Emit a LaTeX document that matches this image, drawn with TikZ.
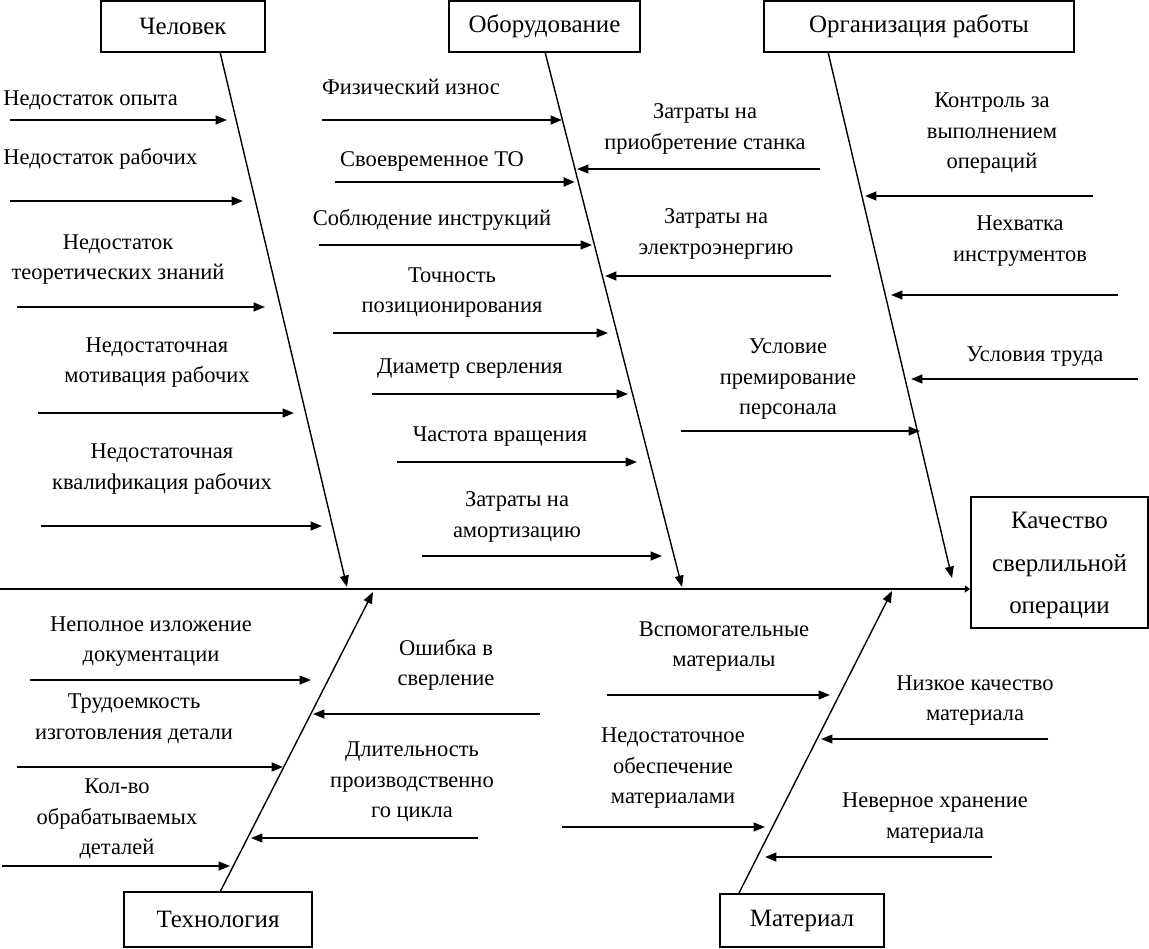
\documentclass[tikz,border=0pt]{standalone}
\usepackage{fontspec}
\setmainfont{Liberation Serif}
\usetikzlibrary{arrows.meta}
\newcommand\fsz{\fontsize{12.8pt}{17.3pt}\selectfont}
\newcommand\fszt{\fontsize{14.2pt}{17.3pt}\selectfont}
\newcommand\fszb{\fontsize{14.2pt}{24.4pt}\selectfont}
\begin{document}
\begin{tikzpicture}[x=0.02cm,y=-0.02cm,
  tip/.style={-{Triangle[length=6.5pt,width=5pt]}},
  rib/.style={tip,line width=1.1pt},
  ribb/.style={tip,line width=1.6pt},
  bone/.style={tip,line width=0.8pt},
  spine/.style={line width=1.2pt,-{Triangle[length=3pt,width=4pt]}},
  box/.style={draw,line width=1pt,inner sep=0pt,font=\fszt},
  lbl/.style={font=\fsz,align=center,inner sep=0pt}]
\useasboundingbox (0,0) rectangle (1149,948);
% boxes
\node[box,minimum width=3.28cm,minimum height=1.02cm] (chel) at (183,26.5) {Человек};
\node[box,minimum width=3.82cm,minimum height=1.02cm] (obor) at (544.5,26.5) {Оборудование};
\node[box,minimum width=6.2cm,minimum height=1.02cm] (org) at (919,26.5) {Организация работы};
\node[box,minimum width=3.54cm,minimum height=2.62cm,font=\fszb,align=center] (kach) at (1059.5,562.5) {\strut Качество\\\strut сверлильной\\\strut операции};
\node[box,minimum width=3.76cm,minimum height=1.1cm] (tech) at (218,919.5) {Технология};
\node[box,minimum width=3.28cm,minimum height=1.06cm] (mat) at (802,920.5) {Материал};
% spine
\coordinate (s0) at (0,589);
\draw[spine] (s0) -- (s0 -| kach.west);
% bones
\coordinate (chelR) at (220,52);   \coordinate (chelT) at (347,587);
\coordinate (oborR) at (545,52);   \coordinate (oborT) at (682,587);
\coordinate (orgR) at (828,52);    \coordinate (orgT) at (952,578);
\coordinate (techR) at (220,892);  \coordinate (techT) at (373,592);
\coordinate (matR) at (739,893);   \coordinate (matT) at (892,591);
\draw[bone] (chelR) -- (chelT);
\draw[bone] (oborR) -- (oborT);
\draw[bone] (orgR) -- (orgT);
\draw[bone] (techR) -- (techT);
\draw[bone] (matR) -- (matT);
% ribs: Человек
\coordinate (a1s) at (10,120);  \coordinate (a1e) at (227,120);
\coordinate (a2s) at (10,201);  \coordinate (a2e) at (243,201);
\coordinate (a3s) at (17,307);  \coordinate (a3e) at (265,307);
\coordinate (a4s) at (38,413);  \coordinate (a4e) at (294,413);
\coordinate (a5s) at (41,526);  \coordinate (a5e) at (322,526);
\foreach \i in {1,...,5} {\draw[rib] (a\i s) -- (a\i e);}
% ribs: Оборудование
\coordinate (b1s) at (322,120); \coordinate (b1e) at (562,120);
\coordinate (b2s) at (335,182); \coordinate (b2e) at (575,182);
\coordinate (b3s) at (319,245); \coordinate (b3e) at (592,245);
\coordinate (b4s) at (333,333); \coordinate (b4e) at (608,333);
\coordinate (b5s) at (372,394); \coordinate (b5e) at (628,394);
\coordinate (b6s) at (397,462); \coordinate (b6e) at (637,462);
\coordinate (b7s) at (422,556); \coordinate (b7e) at (662,556);
\coordinate (b8s) at (820,169); \coordinate (b8e) at (577,169);
\coordinate (b9s) at (831,276); \coordinate (b9e) at (605,276);
\foreach \i in {1,3,4,5,6,7,8,9} {\draw[rib] (b\i s) -- (b\i e);}
\draw[ribb] (b2s) -- (b2e);
% ribs: Организация работы
\coordinate (c1s) at (1093,196); \coordinate (c1e) at (865,196);
\coordinate (c2s) at (1118,295); \coordinate (c2e) at (891,295);
\coordinate (c3s) at (1138,379); \coordinate (c3e) at (911,379);
\coordinate (c4s) at (681,431);  \coordinate (c4e) at (920,431);
\foreach \i in {1,...,4} {\draw[rib] (c\i s) -- (c\i e);}
% ribs: Технология
\coordinate (d1s) at (30,680);  \coordinate (d1e) at (311,680);
\coordinate (d2s) at (17,767);  \coordinate (d2e) at (283,767);
\coordinate (d3s) at (2,866);   \coordinate (d3e) at (230,866);
\coordinate (d4s) at (540,714); \coordinate (d4e) at (313,714);
\coordinate (d5s) at (478,838); \coordinate (d5e) at (251,838);
\foreach \i in {1,...,5} {\draw[rib] (d\i s) -- (d\i e);}
% ribs: Материал
\coordinate (f1s) at (607,695);  \coordinate (f1e) at (830,695);
\coordinate (f2s) at (562,827);  \coordinate (f2e) at (765,827);
\coordinate (f3s) at (1048,739); \coordinate (f3e) at (821,739);
\coordinate (f4s) at (992,857);  \coordinate (f4e) at (765,857);
\foreach \i in {1,...,4} {\draw[rib] (f\i s) -- (f\i e);}
% labels
\node[lbl,anchor=west] (la1) at (3,99) {\strut Недостаток опыта};
\node[lbl,anchor=west] (la2) at (3,158) {\strut Недостаток рабочих};
\node[lbl] (la3) at (118,258.5) {\strut Недостаток\\\strut теоретических знаний};
\node[lbl] (la4) at (157,361.5) {\strut Недостаточная\\\strut мотивация рабочих};
\node[lbl] (la5) at (162,468) {\strut Недостаточная\\\strut квалификация рабочих};
\node[lbl] (lb1) at (411,88) {\strut Физический износ};
\node[lbl] (lb2) at (432,160) {\strut Своевременное ТО};
\node[lbl] (lb3) at (432,219) {\strut Соблюдение инструкций};
\node[lbl] (lb4) at (452,291.5) {\strut Точность\\\strut позиционирования};
\node[lbl] (lb5) at (470,367) {\strut Диаметр сверления};
\node[lbl] (lb6) at (500,435) {\strut Частота вращения};
\node[lbl] (lb7) at (517,516) {\strut Затраты на\\\strut амортизацию};
\node[lbl] (lb8) at (705,128) {\strut Затраты на\\\strut приобретение станка};
\node[lbl] (lb9) at (716,233) {\strut Затраты на\\\strut электроэнергию};
\node[lbl] (lc1) at (992,132) {\strut Контроль за\\\strut выполнением\\\strut операций};
\node[lbl] (lc2) at (1020,240) {\strut Нехватка\\\strut инструментов};
\node[lbl] (lc3) at (1035,355) {\strut Условия труда};
\node[lbl] (lc4) at (788,378) {\strut Условие\\\strut премирование\\\strut персонала};
\node[lbl] (ld1) at (151,640.5) {\strut Неполное изложение\\\strut документации};
\node[lbl] (ld2) at (134,718) {\strut Трудоемкость\\\strut изготовления детали};
\node[lbl] (ld3) at (117,818) {\strut Кол-во\\\strut обрабатываемых\\\strut деталей};
\node[lbl] (ld4) at (446,664.5) {\strut Ошибка в\\\strut сверление};
\node[lbl] (ld5) at (412,781) {\strut Длительность\\\strut производственно\\\strut го цикла};
\node[lbl] (lf1) at (724,645.5) {\strut Вспомогательные\\\strut материалы};
\node[lbl] (lf2) at (673,767) {\strut Недостаточное\\\strut обеспечение\\\strut материалами};
\node[lbl] (lf3) at (975,699.5) {\strut Низкое качество\\\strut материала};
\node[lbl] (lf4) at (935,817) {\strut Неверное хранение\\\strut материала};
\end{tikzpicture}
\end{document}
